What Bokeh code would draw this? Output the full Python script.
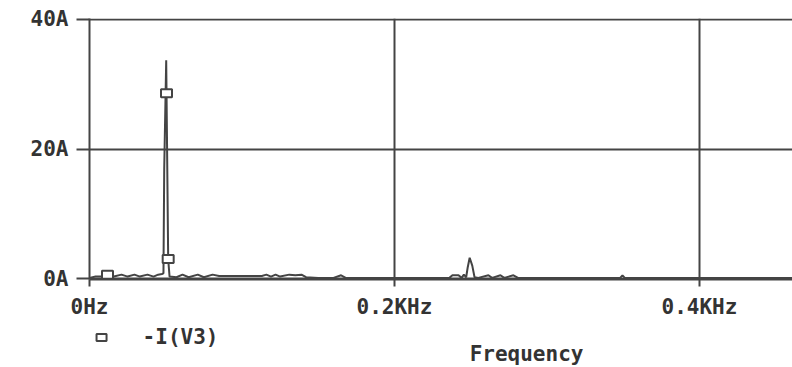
from bokeh.plotting import figure
from bokeh.layouts import column
from bokeh.models import Range1d, FixedTicker
from bokeh.core.properties import value
from bokeh.embed import file_html
from bokeh.resources import INLINE

# FFT magnitude of -I(V3)
freq_hz = [0, 4, 8, 11.8, 16, 21, 25, 29.5, 33, 38, 42, 45, 47.5, 48.5, 49.0, 50.3, 51.6,
           52.5, 57, 61, 65, 71, 75, 80.7, 85, 95, 105, 113, 116, 119, 122, 125, 131, 135,
           139, 142, 150, 160, 165, 168, 180, 200, 220, 236, 238, 242, 244, 245.5, 247,
           248, 249.3, 251, 252.5, 255, 261.6, 264, 269.5, 272, 278, 281, 300, 348,
           349.5, 351, 400, 461]
current_a = [0.1, 0.3, 0.3, 0.6, 0.3, 0.6, 0.3, 0.6, 0.3, 0.6, 0.3, 0.6, 0.7, 0.8, 17.0, 33.7, 3.0,
             0.3, 0.2, 0.6, 0.2, 0.6, 0.2, 0.6, 0.4, 0.4, 0.4, 0.4, 0.6, 0.3, 0.6, 0.3, 0.6, 0.5,
             0.6, 0.2, 0.1, 0.1, 0.5, 0.1, 0.1, 0.1, 0.1, 0.1, 0.5, 0.5, 0.1, 0.6, 0.2,
             1.7, 3.2, 2.0, 0.2, 0.1, 0.5, 0.1, 0.5, 0.1, 0.5, 0.1, 0.1, 0.1,
             0.5, 0.1, 0.1, 0.1]

marker_hz = [11.8, 50.5, 51.6]
marker_a = [0.6, 28.6, 3.0]

y_ticks = [0, 20, 40]
y_tick_labels = ["0A", "20A", "40A"]
x_ticks = [0, 200, 400]
x_tick_labels = ["0Hz", "0.2KHz", "0.4KHz"]
series_name = "-I(V3)"
x_title = "Frequency"

FONT = "DejaVu Sans Mono"
INK = "#444444"
TXT = "#333333"
FS = "21px"
W = 792

xr = Range1d(0, 461)
p = figure(width=W, height=321, output_backend="svg", toolbar_location=None,
           x_range=xr, y_range=Range1d(-0.15, 40.15),
           min_border_left=89, min_border_right=0, min_border_top=18, min_border_bottom=42)
p.outline_line_color = None
p.background_fill_color = "white"
p.border_fill_color = "white"

# grid
p.xgrid.ticker = FixedTicker(ticks=[200, 400])
p.ygrid.ticker = FixedTicker(ticks=y_ticks)
for g in (p.xgrid[0], p.ygrid[0]):
    g.grid_line_color = INK
    g.grid_line_width = 2
    g.grid_line_alpha = 1.0

# axes
ya = p.yaxis[0]
ya.ticker = FixedTicker(ticks=y_ticks)
ya.major_label_overrides = {t: s for t, s in zip(y_ticks, y_tick_labels)}
ya.major_tick_out = 13
ya.major_label_standoff = 8
xa = p.xaxis[0]
xa.ticker = FixedTicker(ticks=x_ticks)
xa.major_label_overrides = {t: s for t, s in zip(x_ticks, x_tick_labels)}
xa.major_tick_out = 7
xa.major_label_standoff = 8
for ax in (xa, ya):
    ax.major_tick_in = 0
    ax.minor_tick_out = 0
    ax.minor_tick_in = 0
    ax.axis_line_color = INK
    ax.axis_line_width = 2
    ax.major_tick_line_color = INK
    ax.major_tick_line_width = 2
    ax.major_label_text_font = FONT
    ax.major_label_text_font_style = "bold"
    ax.major_label_text_font_size = FS
    ax.major_label_text_color = TXT

# trace
p.line(freq_hz, current_a, line_color=INK, line_width=2)
p.rect(marker_hz, marker_a, width=11, height=8, width_units="screen", height_units="screen",
       fill_color="white", line_color=INK, line_width=2)

# bottom strip: legend and x title (strip y measured in px up from window bottom)
p2 = figure(width=W, height=46, output_backend="svg", toolbar_location=None,
            x_range=xr, y_range=Range1d(0, 46),
            x_axis_location=None, y_axis_location=None,
            min_border_left=89, min_border_right=0, min_border_top=0, min_border_bottom=0)
p2.outline_line_color = None
p2.grid.visible = False
p2.background_fill_color = "white"
p2.border_fill_color = "white"

# legend entry: marker symbol + series name
p2.rect(x=[7.9], y=[30], width=10, height=7, width_units="screen", height_units="screen",
        fill_color="white", line_color=INK, line_width=2)
p2.text(x=[59.7], y=[31], text=[series_name], text_align="center", text_baseline="middle",
        text_font=value(FONT), text_font_style="bold", text_font_size=FS, text_color=TXT)

p2.text(x=[286.6], y=[14], text=[x_title], text_align="center", text_baseline="middle",
        text_font=value(FONT), text_font_style="bold", text_font_size=FS, text_color=TXT)

layout = column(p, p2, spacing=0)
open("out.html", "w").write(file_html(layout, INLINE))
